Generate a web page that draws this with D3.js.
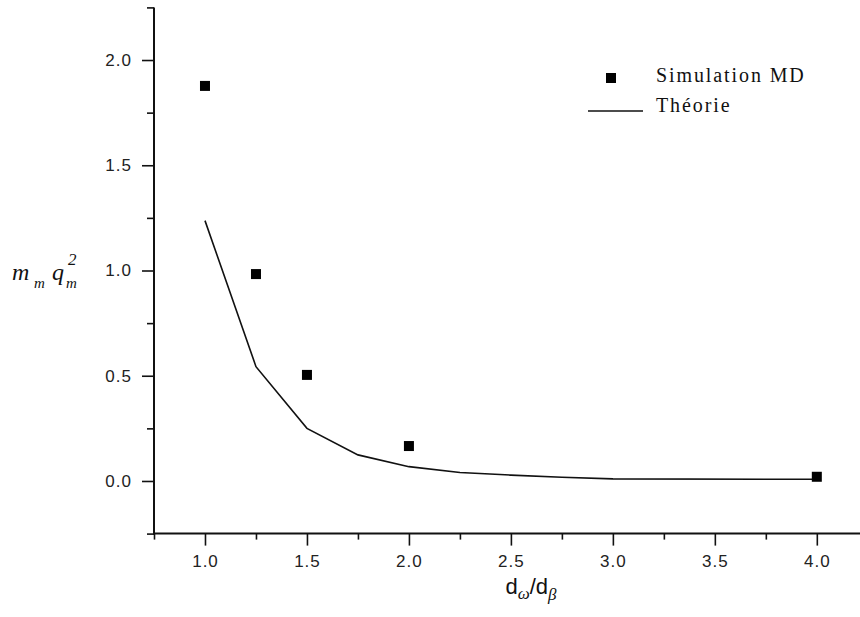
<!DOCTYPE html>
<html>
<head>
<meta charset="utf-8">
<script src="https://cdn.jsdelivr.net/npm/d3@7"></script>
<style>
  body { margin: 0; background: #fff; }
  svg { display: block; }
  .tick text { font-family: Arial, "Liberation Sans", sans-serif; font-size: 17px; letter-spacing: 1px; fill: #222; }
  .legend text { font-family: "Liberation Serif", "Times New Roman", serif; font-size: 20px; letter-spacing: 1.9px; fill: #111; }
  .ytitle { font-family: "Liberation Serif", "Times New Roman", serif; font-style: italic; fill: #111; }
</style>
</head>
<body>
<div id="chart"></div>
<script>
// simulation points
const simX = [1.0, 1.25, 1.5, 2.0, 4.0]
const simY = [1.877, 0.983, 0.504, 0.166, 0.02]

// theory curve
const theoryX = [1.0, 1.25, 1.5, 1.75, 2.0, 2.25, 2.5, 2.75, 3.0, 4.0]
const theoryY = [1.237, 0.543, 0.25, 0.124, 0.068, 0.04, 0.028, 0.018, 0.01, 0.008]

const xMajor = [1.0, 1.5, 2.0, 2.5, 3.0, 3.5, 4.0]
const xMinor = [0.75, 1.25, 1.75, 2.25, 2.75, 3.25, 3.75]
const yMajor = [0.0, 0.5, 1.0, 1.5, 2.0]
const yMinor = [-0.25, 0.25, 0.75, 1.25, 1.75, 2.25]

const legendLabels = ['Simulation MD', 'Théorie']

const width = 860
const height = 617

const svg = d3.select('#chart').append('svg')
  .attr('width', width)
  .attr('height', height)

const x = d3.scaleLinear().domain([0.75, 4.3]).range([154, 878])
const y = d3.scaleLinear().domain([-0.25, 2.25]).range([533.6, 7.4])

const fmt = d3.format('.1f')

// x axis, major + minor
const xAxisG = svg.append('g').attr('transform', `translate(0,${y(-0.25)})`)
xAxisG.append('g')
  .call(d3.axisBottom(x).tickValues(xMinor).tickSize(6).tickFormat(''))
  .call(g => g.select('.domain').remove())
xAxisG.append('g')
  .call(d3.axisBottom(x).tickValues(xMajor).tickSize(12).tickPadding(9).tickFormat(fmt))
  .call(g => g.select('.domain').remove())
xAxisG.append('line')
  .attr('x1', x(0.75) - 1).attr('x2', width)
  .attr('stroke', '#111').attr('stroke-width', 2)
xAxisG.selectAll('.tick line').attr('stroke', '#111').attr('stroke-width', 1.6)

// y axis
const yAxisG = svg.append('g').attr('transform', `translate(${x(0.75)},0)`)
yAxisG.append('g')
  .call(d3.axisLeft(y).tickValues(yMinor).tickSize(7).tickFormat(''))
  .call(g => g.select('.domain').remove())
yAxisG.append('g')
  .call(d3.axisLeft(y).tickValues(yMajor).tickSize(12).tickPadding(10).tickFormat(fmt))
  .call(g => g.select('.domain').remove())
yAxisG.append('line')
  .attr('y1', y(2.25)).attr('y2', y(-0.25) + 1)
  .attr('stroke', '#111').attr('stroke-width', 2)
yAxisG.selectAll('.tick line').attr('stroke', '#111').attr('stroke-width', 1.6)

// theory line
const theory = theoryX.map((d, i) => ({x: d, y: theoryY[i]}))
svg.append('path')
  .datum(theory)
  .attr('fill', 'none')
  .attr('stroke', '#111')
  .attr('stroke-width', 1.6)
  .attr('d', d3.line().x(d => x(d.x)).y(d => y(d.y)))

// simulation squares
const sq = 10
svg.selectAll('rect.sim')
  .data(simX.map((d, i) => ({x: d, y: simY[i]})))
  .enter()
    .append('rect')
    .attr('class', 'sim')
    .attr('x', d => x(d.x) - sq / 2)
    .attr('y', d => y(d.y) - sq / 2)
    .attr('width', sq)
    .attr('height', sq)
    .attr('fill', '#000')

// legend
const legend = svg.append('g').attr('class', 'legend')
legend.append('rect')
  .attr('x', 606).attr('y', 73).attr('width', sq).attr('height', sq)
  .attr('fill', '#000')
legend.append('line')
  .attr('x1', 588).attr('x2', 643).attr('y1', 111).attr('y2', 111)
  .attr('stroke', '#111').attr('stroke-width', 1.6)
legend.selectAll('text')
  .data(legendLabels)
  .enter()
    .append('text')
    .attr('x', 656)
    .attr('y', (d, i) => 82 + i * 30)
    .text(d => d)

// x axis title
const xt = svg.append('text')
  .attr('x', 531).attr('y', 594)
  .attr('text-anchor', 'middle')
  .attr('font-family', 'Arial, "Liberation Sans", sans-serif')
  .attr('font-size', 22)
  .attr('fill', '#111')
xt.append('tspan').text('d')
xt.append('tspan').attr('font-size', 17).attr('dy', 5).attr('font-family', '"Liberation Serif", serif').attr('font-style', 'italic').text('ω')
xt.append('tspan').attr('dy', -5).text('/d')
xt.append('tspan').attr('font-size', 17).attr('dy', 6).attr('font-family', '"Liberation Serif", serif').attr('font-style', 'italic').text('β')

// y axis title, pieces placed separately
const yTitle = [
  {t: 'm', x: 12, y: 280, s: 24},
  {t: 'm', x: 34, y: 288, s: 15},
  {t: 'q', x: 52, y: 280, s: 24},
  {t: '2', x: 68, y: 265, s: 17},
  {t: 'm', x: 66, y: 288, s: 15}
]
svg.selectAll('text.ytitle')
  .data(yTitle)
  .enter()
    .append('text')
    .attr('class', 'ytitle')
    .attr('x', d => d.x)
    .attr('y', d => d.y)
    .attr('font-size', d => d.s)
    .text(d => d.t)
</script>
</body>
</html>
